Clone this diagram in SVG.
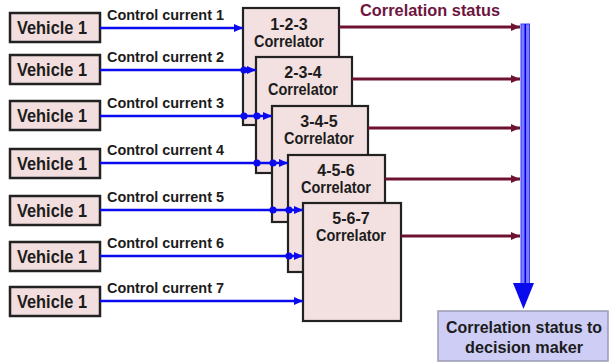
<svg xmlns="http://www.w3.org/2000/svg" width="610" height="364" viewBox="0 0 610 364">
<style>
  text { font-family: "Liberation Sans", Arial, sans-serif; font-weight: bold; fill: #1c1c1c; }
  .veh { fill: #f2dede; stroke: #222; stroke-width: 2.5; }
  .cor { fill: #f3e0e0; stroke: #222; stroke-width: 2.2; }
  .vt { font-size: 17.5px; }
  .ct { font-size: 15.5px; }
  .cn { font-size: 16px; text-anchor: middle; }
  .blue { stroke: #0a0aee; stroke-width: 2.6; fill: none; }
  .red { stroke: #6e1232; stroke-width: 2.8; fill: none; }
  .dot { fill: #0a0aee; }
</style>
<defs>
  <marker id="ab" markerUnits="userSpaceOnUse" markerWidth="10" markerHeight="10" refX="9" refY="5" orient="auto">
    <path d="M0,1 L9,5 L0,9 Z" fill="#0a0aee"/>
  </marker>
  <marker id="ar" markerUnits="userSpaceOnUse" markerWidth="10" markerHeight="10" refX="9" refY="5" orient="auto">
    <path d="M0,1 L9,5 L0,9 Z" fill="#6e1232"/>
  </marker>
</defs>

<g id="vehicle1"><rect class="veh" x="10" y="13" width="90" height="29"/><text class="vt" x="17" y="34" textLength="70" lengthAdjust="spacingAndGlyphs">Vehicle 1</text></g>
<g id="vehicle2"><rect class="veh" x="10" y="55" width="90" height="29"/><text class="vt" x="17" y="76" textLength="70" lengthAdjust="spacingAndGlyphs">Vehicle 1</text></g>
<g id="vehicle3"><rect class="veh" x="10" y="101" width="90" height="29"/><text class="vt" x="17" y="122" textLength="70" lengthAdjust="spacingAndGlyphs">Vehicle 1</text></g>
<g id="vehicle4"><rect class="veh" x="10" y="149" width="90" height="29"/><text class="vt" x="17" y="170" textLength="70" lengthAdjust="spacingAndGlyphs">Vehicle 1</text></g>
<g id="vehicle5"><rect class="veh" x="10" y="196" width="90" height="29"/><text class="vt" x="17" y="217" textLength="70" lengthAdjust="spacingAndGlyphs">Vehicle 1</text></g>
<g id="vehicle6"><rect class="veh" x="10" y="242" width="90" height="29"/><text class="vt" x="17" y="263" textLength="70" lengthAdjust="spacingAndGlyphs">Vehicle 1</text></g>
<g id="vehicle7"><rect class="veh" x="10" y="287" width="90" height="29"/><text class="vt" x="17" y="308" textLength="70" lengthAdjust="spacingAndGlyphs">Vehicle 1</text></g>

<g id="correlator123"><rect class="cor" x="243" y="8" width="96" height="117"/><text class="cn" x="289" y="30">1-2-3</text><text class="cn" x="289" y="47" textLength="70" lengthAdjust="spacingAndGlyphs">Correlator</text></g>
<g id="correlator234"><rect class="cor" x="256" y="57" width="96" height="116"/><text class="cn" x="303" y="78">2-3-4</text><text class="cn" x="303" y="95" textLength="70" lengthAdjust="spacingAndGlyphs">Correlator</text></g>
<g id="correlator345"><rect class="cor" x="272" y="106" width="96" height="116"/><text class="cn" x="319" y="127">3-4-5</text><text class="cn" x="319" y="144" textLength="70" lengthAdjust="spacingAndGlyphs">Correlator</text></g>
<g id="correlator456"><rect class="cor" x="288" y="155" width="97" height="117"/><text class="cn" x="336" y="176">4-5-6</text><text class="cn" x="336" y="193" textLength="70" lengthAdjust="spacingAndGlyphs">Correlator</text></g>
<g id="correlator567"><rect class="cor" x="303" y="203" width="98" height="118"/><text class="cn" x="351" y="224">5-6-7</text><text class="cn" x="351" y="241" textLength="70" lengthAdjust="spacingAndGlyphs">Correlator</text></g>

<g id="decision"><rect x="438" y="311" width="170" height="50" fill="#cdcdf5" stroke="#9a9ab4" stroke-width="1.5"/><text x="524" y="333" font-size="16.5" text-anchor="middle" textLength="156" lengthAdjust="spacingAndGlyphs">Correlation status to</text><text x="524" y="353" font-size="17" text-anchor="middle" textLength="118" lengthAdjust="spacingAndGlyphs">decision maker</text></g>

<g id="labels">
  <text class="ct" x="107" y="20" textLength="117" lengthAdjust="spacingAndGlyphs">Control current 1</text>
  <text class="ct" x="107" y="62" textLength="117" lengthAdjust="spacingAndGlyphs">Control current 2</text>
  <text class="ct" x="107" y="108" textLength="117" lengthAdjust="spacingAndGlyphs">Control current 3</text>
  <text class="ct" x="107" y="155" textLength="117" lengthAdjust="spacingAndGlyphs">Control current 4</text>
  <text class="ct" x="107" y="202" textLength="117" lengthAdjust="spacingAndGlyphs">Control current 5</text>
  <text class="ct" x="107" y="248" textLength="117" lengthAdjust="spacingAndGlyphs">Control current 6</text>
  <text class="ct" x="107" y="293" textLength="117" lengthAdjust="spacingAndGlyphs">Control current 7</text>
  <text x="360" y="16" font-size="17" style="fill:#6e1540" textLength="140" lengthAdjust="spacingAndGlyphs">Correlation status</text>
</g>

<g id="connectors">
  <line class="blue" x1="100" y1="28" x2="243" y2="28" marker-end="url(#ab)"/>
  <line class="blue" x1="100" y1="70" x2="256" y2="70" marker-end="url(#ab)"/>
  <line class="blue" x1="100" y1="116" x2="272" y2="116" marker-end="url(#ab)"/>
  <line class="blue" x1="100" y1="163" x2="288" y2="163" marker-end="url(#ab)"/>
  <line class="blue" x1="100" y1="210" x2="303" y2="210" marker-end="url(#ab)"/>
  <line class="blue" x1="100" y1="256" x2="303" y2="256" marker-end="url(#ab)"/>
  <line class="blue" x1="100" y1="301" x2="303" y2="301" marker-end="url(#ab)"/>
  <circle class="dot" cx="244" cy="70" r="3.6"/>
  <circle class="dot" cx="244" cy="116" r="3.6"/>
  <circle class="dot" cx="257" cy="116" r="3.6"/>
  <circle class="dot" cx="257" cy="163" r="3.6"/>
  <circle class="dot" cx="273" cy="163" r="3.6"/>
  <circle class="dot" cx="273" cy="210" r="3.6"/>
  <circle class="dot" cx="289" cy="210" r="3.6"/>
  <circle class="dot" cx="289" cy="256" r="3.6"/>

  <line class="red" x1="339" y1="27" x2="520" y2="27" marker-end="url(#ar)"/>
  <line class="red" x1="352" y1="79" x2="520" y2="79" marker-end="url(#ar)"/>
  <line class="red" x1="368" y1="128" x2="520" y2="128" marker-end="url(#ar)"/>
  <line class="red" x1="385" y1="179" x2="520" y2="179" marker-end="url(#ar)"/>
  <line class="red" x1="401" y1="236" x2="520" y2="236" marker-end="url(#ar)"/>

  <rect x="521" y="24" width="8.5" height="261" fill="#7d7dff" stroke="#3a3aff" stroke-width="1"/>
  <line x1="525.3" y1="24" x2="525.3" y2="285" stroke="#0000dd" stroke-width="1.6"/>
  <polygon points="513,283 534,283 523.5,309" fill="#0a0aee"/>
</g>
</svg>
